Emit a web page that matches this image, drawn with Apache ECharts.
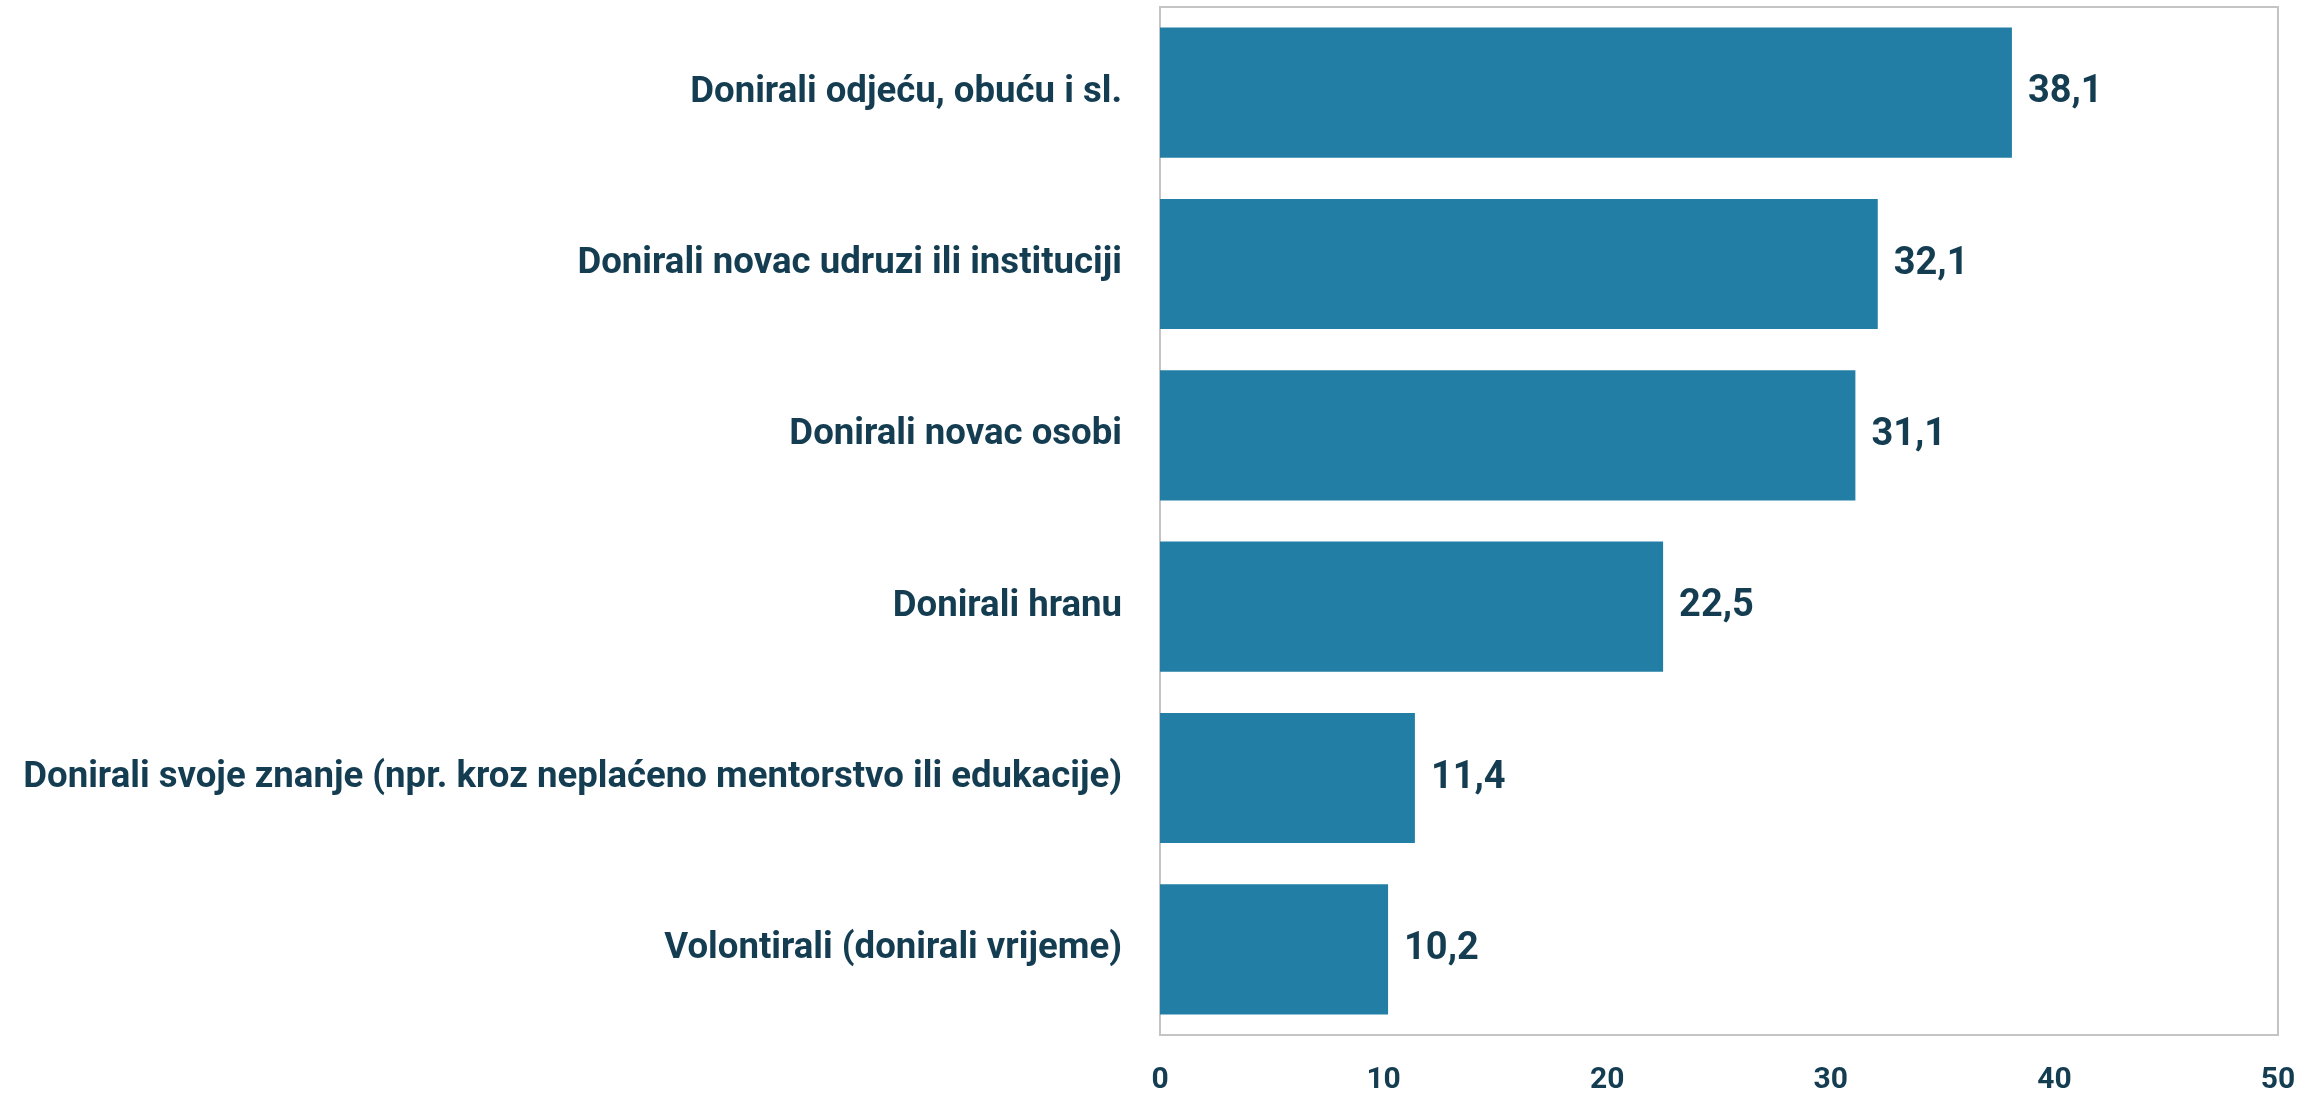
<!DOCTYPE html>
<html>
<head>
<meta charset="utf-8">
<script src="https://cdn.jsdelivr.net/npm/echarts@6/dist/echarts.min.js"></script>
<style>
html,body{margin:0;padding:0;background:#fff;}
#chart{width:2321px;height:1095px;}
</style>
</head>
<body>
<div id="chart"></div>
<script>
const categories = [
  "Donirali odjeću, obuću i sl.",
  "Donirali novac udruzi ili instituciji",
  "Donirali novac osobi",
  "Donirali hranu",
  "Donirali svoje znanje (npr. kroz neplaćeno mentorstvo ili edukacije)",
  "Volontirali (donirali vrijeme)"
];
const values = [38.1, 32.1, 31.1, 22.5, 11.4, 10.2];
const xTicks = [0, 10, 20, 30, 40, 50];

const textColor = '#143d52';
const chart = echarts.init(document.getElementById('chart'));
chart.setOption({
  animation: false,
  grid: {
    left: 1160, right: 43, top: 7, bottom: 59,
    show: true, borderColor: '#c4c4c4', borderWidth: 2, backgroundColor: 'transparent'
  },
  xAxis: {
    type: 'value', min: xTicks[0], max: xTicks[xTicks.length - 1], interval: 10,
    splitLine: { show: false },
    axisLine: { show: false },
    axisTick: { show: false },
    axisLabel: {
      color: textColor, fontFamily: 'Roboto', fontWeight: 'bold', fontSize: 30, margin: 30,
      verticalAlign: 'top'
    }
  },
  yAxis: {
    type: 'category', data: categories, inverse: true,
    axisLine: { show: false },
    axisTick: { show: false },
    axisLabel: {
      color: textColor, fontFamily: 'Roboto', fontWeight: 'bold', fontSize: 36.6, margin: 38
    }
  },
  series: [{
    type: 'bar', data: values, barWidth: '76%',
    itemStyle: { color: '#237ea6' },
    label: {
      show: true, position: 'right', distance: 16,
      color: textColor, fontFamily: 'Roboto', fontWeight: 'bold', fontSize: 38,
      formatter: p => p.value.toFixed(1).replace('.', ',')
    }
  }]
});
</script>
</body>
</html>
